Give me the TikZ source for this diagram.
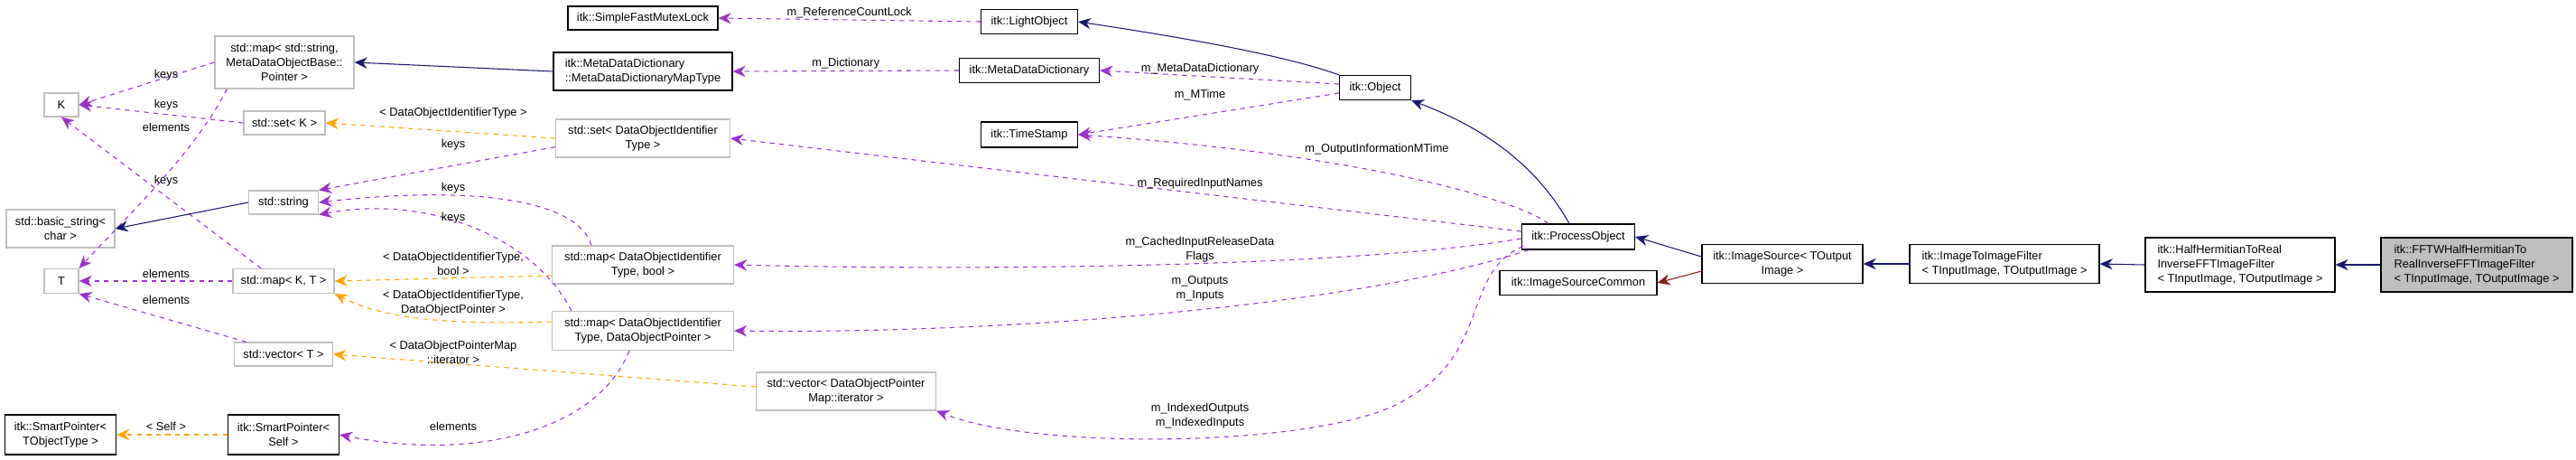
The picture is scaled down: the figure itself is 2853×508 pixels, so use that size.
\documentclass[tikz,border=0pt]{standalone}
\usepackage{fontspec}
\setmainfont{Liberation Sans}
\usetikzlibrary{arrows.meta}
\definecolor{purp}{HTML}{9A32CD}
\definecolor{orng}{HTML}{FFA500}
\definecolor{navy}{HTML}{191970}
\definecolor{dred}{HTML}{8B1A1A}
\begin{document}
\begin{tikzpicture}[x=0.02cm,y=-0.02cm,
  font=\fontsize{7.3}{9}\selectfont,
  box/.style={draw=black,line width=0.7pt,fill=white,align=center,inner sep=1pt},
  gbox/.style={draw=black!25,line width=0.7pt,fill=white,align=center,inner sep=1pt},
  mem/.style={draw=purp,dashed,line width=0.6pt,-{Stealth[length=8pt,width=7pt]}},
  tpl/.style={draw=orng,dashed,line width=0.6pt,-{Stealth[length=8pt,width=7pt]}},
  inh/.style={draw=navy,line width=0.6pt,-{Stealth[length=8pt,width=7pt]}},
  inr/.style={draw=dred,line width=0.6pt,-{Stealth[length=8pt,width=7pt]}},
  lab/.style={align=center,inner sep=0pt}]
\useasboundingbox (0,0) rectangle (2853,508);
% nodes
\node[box,minimum width=3.32cm,minimum height=0.52cm] (sfml) at (712,20) {itk::SimpleFastMutexLock};
\node[gbox,minimum width=3.08cm,minimum height=1.16cm] (mapstr) at (315,69) {std::map< std::string,\\MetaDataObjectBase::\\Pointer >};
\node[box,minimum width=3.96cm,minimum height=0.84cm,align=left] (mdmt) at (712,79) {itk::MetaDataDictionary\\::MetaDataDictionaryMapType};
\node[gbox,minimum width=0.76cm,minimum height=0.52cm] (K) at (68,116) {K};
\node[gbox,minimum width=1.8cm,minimum height=0.52cm] (setK) at (315,136) {std::set< K >};
\node[gbox,minimum width=3.86cm,minimum height=0.84cm] (setD) at (712,153) {std::set< DataObjectIdentifier\\Type >};
\node[gbox,minimum width=1.54cm,minimum height=0.52cm] (str) at (314,224) {std::string};
\node[gbox,minimum width=2.4cm,minimum height=0.84cm] (bstr) at (67,253) {std::basic\_string<\\char >};
\node[gbox,minimum width=0.76cm,minimum height=0.54cm] (T) at (68,311) {T};
\node[gbox,minimum width=2.24cm,minimum height=0.54cm] (mapKT) at (314,311) {std::map< K, T >};
\node[gbox,minimum width=4.02cm,minimum height=0.84cm] (mapB) at (712,293) {std::map< DataObjectIdentifier\\Type, bool >};
\node[gbox,minimum width=4.02cm,minimum height=0.86cm] (mapP) at (712,366) {std::map< DataObjectIdentifier\\Type, DataObjectPointer >};
\node[gbox,minimum width=2.18cm,minimum height=0.52cm] (vecT) at (314,392) {std::vector< T >};
\node[gbox,minimum width=3.98cm,minimum height=0.84cm] (vecI) at (937,433) {std::vector< DataObjectPointer\\Map::iterator >};
\node[box,minimum width=2.46cm,minimum height=0.88cm] (spT) at (67,481) {itk::SmartPointer<\\TObjectType >};
\node[box,minimum width=2.46cm,minimum height=0.88cm] (spS) at (314,481) {itk::SmartPointer<\\Self >};
\node[box,minimum width=2.14cm,minimum height=0.54cm] (lo) at (1140,24) {itk::LightObject};
\node[box,minimum width=3.1cm,minimum height=0.54cm] (mdd) at (1140,78) {itk::MetaDataDictionary};
\node[box,minimum width=1.58cm,minimum height=0.54cm] (obj) at (1523,97) {itk::Object};
\node[box,minimum width=2.14cm,minimum height=0.56cm] (ts) at (1140,149) {itk::TimeStamp};
\node[box,minimum width=2.5cm,minimum height=0.56cm] (po) at (1748,262) {itk::ProcessObject};
\node[box,minimum width=3.48cm,minimum height=0.54cm] (isc) at (1748,313) {itk::ImageSourceCommon};
\node[box,minimum width=3.56cm,minimum height=0.86cm] (is) at (1974,292) {itk::ImageSource< TOutput\\Image >};
\node[box,minimum width=4.2cm,minimum height=0.86cm,align=left] (itif) at (2220,292) {itk::ImageToImageFilter\\< TInputImage, TOutputImage >};
\node[box,minimum width=4.2cm,minimum height=1.2cm,align=left] (hh) at (2481,293) {itk::HalfHermitianToReal\\InverseFFTImageFilter\\< TInputImage, TOutputImage >};
\node[box,fill=black!25,minimum width=4.24cm,minimum height=1.2cm,align=left] (fftw) at (2743,293) {itk::FFTWHalfHermitianTo\\RealInverseFFTImageFilter\\< TInputImage, TOutputImage >};
% edges
\draw[mem] (lo.west) -- node[lab,above=1pt]{m\_ReferenceCountLock} (sfml.east);
\draw[mem] (mdd.west) -- node[lab,above=1pt]{m\_Dictionary} (mdmt.east);
\draw[inh] (mdmt.west) -- (mapstr.east);
\draw[mem] (mapstr.west) -- (K.east);
\node[lab] (l1) at (184,83) {keys};
\draw[mem] (setK.west) -- (K.east);
\node[lab] (l2) at (184,116) {keys};
\draw[tpl] (setD.west) -- (setK.east);
\node[lab] (l3) at (502,125) {< DataObjectIdentifierType >};
\draw[mem] (mapstr.south west) ++(14,0) .. controls (215,170) and (140,240) .. (T.north east);
\node[lab] (l4) at (184,141) {elements};
\draw[mem] (mapKT.north) ++(-25,0) -- (K.south);
\node[lab] (l5) at (184,200) {keys};
\draw[mem] (setD.south west) ++(0,-12) -- (str.north east);
\node[lab] (l6) at (502,160) {keys};
\draw[mem] (mapB.north west) ++(44,0) .. controls (640,220) and (520,205) .. (str.east);
\node[lab] (l7) at (502,208) {keys};
\draw[mem] (mapP.north west) ++(22,0) .. controls (590,260) and (470,215) .. (str.south east);
\node[lab] (l8) at (502,241) {keys};
\draw[inh] (str.west) -- (bstr.east);
\draw[mem] (mapKT.west) -- (T.east);
\node[lab] (l9) at (184,303) {elements};
\draw[mem] (vecT.north west) ++(14,0) -- (T.south east);
\node[lab] (l10) at (184,332) {elements};
\draw[tpl] (mapB.west) ++(0,12) -- (mapKT.east);
\node[lab] (l11) at (502,292) {< DataObjectIdentifierType,\\bool >};
\draw[tpl] (mapP.west) ++(0,-10) .. controls (480,360) and (420,350) .. (mapKT.south east);
\node[lab] (l12) at (502,335) {< DataObjectIdentifierType,\\DataObjectPointer >};
\draw[tpl] (vecI.west) ++(0,-5) -- (vecT.east);
\node[lab] (l13) at (502,390) {< DataObjectPointerMap\\::iterator >};
\draw[tpl] (spS.west) -- (spT.east);
\node[lab] (l14) at (184,472) {< Self >};
\draw[mem] (mapP.south) ++(-15,0) .. controls (660,480) and (520,510) .. (spS.east);
\node[lab] (l15) at (502,472) {elements};
\draw[inh] (obj.north west) .. controls (1420,60) and (1300,40) .. (lo.east);
\draw[mem] (obj.west) ++(0,-4) -- (mdd.east);
\node[lab] (l16) at (1329,76) {m\_MetaDataDictionary};
\draw[mem] (obj.west) ++(0,6) -- (ts.east);
\node[lab] (l17) at (1329,105) {m\_MTime};
\draw[mem] (po.north west) ++(30,0) .. controls (1680,220) and (1500,170) .. (ts.east);
\node[lab] (l18) at (1525,165) {m\_OutputInformationMTime};
\draw[inh] (po.north) ++(-10,0) .. controls (1700,180) and (1640,140) .. (obj.south east);
\draw[mem] (po.west) ++(0,-6) -- (setD.east);
\node[lab] (l19) at (1329,203) {m\_RequiredInputNames};
\draw[mem] (po.west) ++(0,2) .. controls (1500,295) and (1100,300) .. (mapB.east);
\node[lab] (l20) at (1329,276) {m\_CachedInputReleaseData\\Flags};
\draw[mem] (po.south west) ++(8,0) .. controls (1500,340) and (1100,370) .. (mapP.east);
\node[lab] (l21) at (1329,319) {m\_Outputs\\m\_Inputs};
\draw[mem] (po.south west) ++(2,-4) .. controls (1620,300) and (1650,390) .. (1560,440) .. controls (1480,495) and (1150,500) .. (vecI.south east);
\node[lab] (l22) at (1329,460) {m\_IndexedOutputs\\m\_IndexedInputs};
\draw[inh] (is.west) ++(0,-8) -- (po.east);
\draw[inr] (is.west) ++(0,8) -- (isc.east);
\draw[inh] (itif.west) -- (is.east);
\draw[inh] (hh.west) -- (itif.east);
\draw[inh] (fftw.west) -- (hh.east);
\end{tikzpicture}
\end{document}
